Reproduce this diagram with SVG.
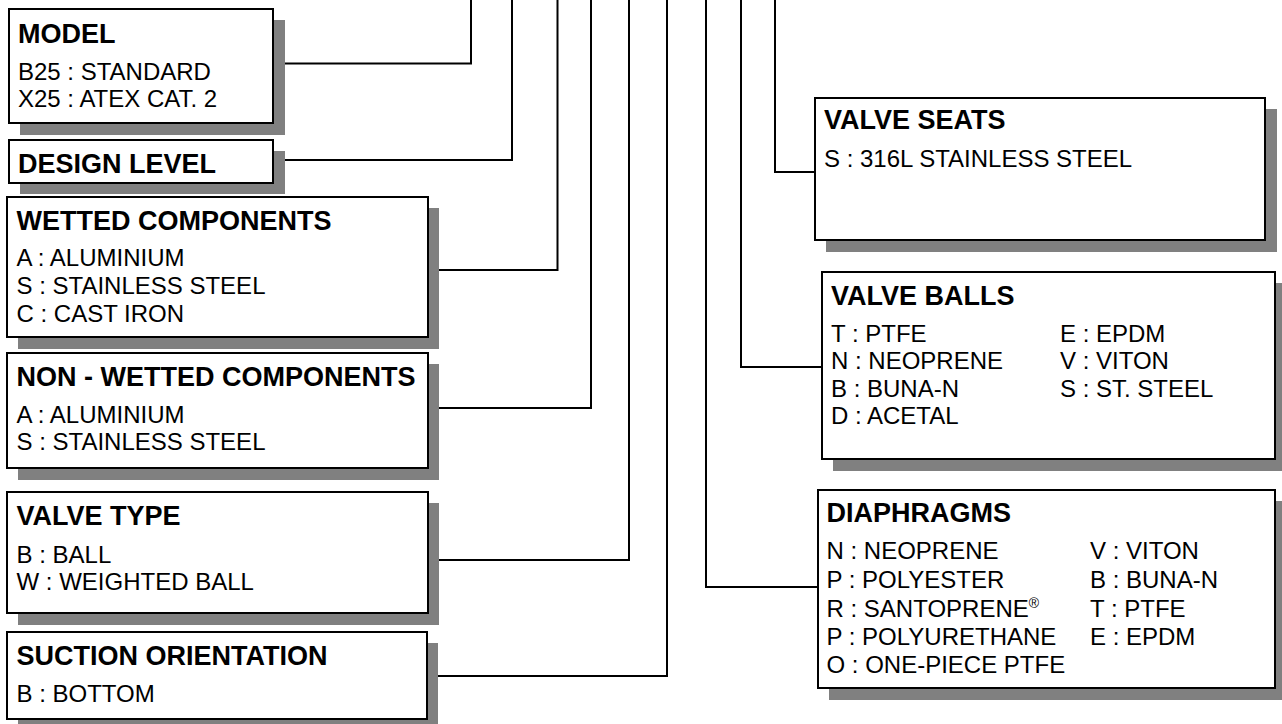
<svg xmlns="http://www.w3.org/2000/svg" width="1282" height="724" viewBox="0 0 1282 724">
<style>
.sh{fill:#808080;stroke:none}
.bx{fill:#fff;stroke:#000;stroke-width:2}
.t{font-family:"Liberation Sans",Arial,sans-serif;font-weight:bold;font-size:27px;fill:#000}
.i{font-family:"Liberation Sans",Arial,sans-serif;font-size:24px;fill:#000}
.c{fill:none;stroke:#000;stroke-width:2}
</style>
<rect width="1282" height="724" fill="#fff"/>
<g id="connectors">
<path class="c" d="M273,63.5 H471 V0"/>
<path class="c" d="M273,160 H512 V0"/>
<path class="c" d="M428,270 H557.5 V0"/>
<path class="c" d="M428,408 H591 V0"/>
<path class="c" d="M428,560 H629 V0"/>
<path class="c" d="M427,676 H667 V0"/>
<path class="c" d="M818,587 H706 V0"/>
<path class="c" d="M822,367 H741 V0"/>
<path class="c" d="M815,172 H775 V0"/>
</g>
<g id="model">
<rect class="sh" x="20" y="20" width="265" height="115"/>
<rect class="bx" x="9" y="9" width="264" height="114"/>
<text class="t" x="18" y="43">MODEL</text>
<text class="i" x="18" y="80">B25 : STANDARD</text>
<text class="i" x="18" y="106.5">X25 : ATEX CAT. 2</text>
</g>
<g id="design-level">
<rect class="sh" x="20" y="151" width="265" height="43"/>
<rect class="bx" x="9" y="140" width="264" height="43"/>
<text class="t" x="18" y="173">DESIGN LEVEL</text>
</g>
<g id="wetted">
<rect class="sh" x="18" y="208" width="421" height="141"/>
<rect class="bx" x="7" y="197" width="421" height="140"/>
<text class="t" x="16.5" y="230">WETTED COMPONENTS</text>
<text class="i" x="16.5" y="266">A : ALUMINIUM</text>
<text class="i" x="16.5" y="294">S : STAINLESS STEEL</text>
<text class="i" x="16.5" y="322">C : CAST IRON</text>
</g>
<g id="non-wetted">
<rect class="sh" x="18" y="364" width="421" height="116"/>
<rect class="bx" x="7" y="353" width="421" height="115"/>
<text class="t" x="16.5" y="386">NON - WETTED COMPONENTS</text>
<text class="i" x="16.5" y="423">A : ALUMINIUM</text>
<text class="i" x="16.5" y="450">S : STAINLESS STEEL</text>
</g>
<g id="valve-type">
<rect class="sh" x="18" y="503" width="421" height="122"/>
<rect class="bx" x="7" y="492" width="421" height="121"/>
<text class="t" x="16.5" y="525">VALVE TYPE</text>
<text class="i" x="16.5" y="563">B : BALL</text>
<text class="i" x="16.5" y="590">W : WEIGHTED BALL</text>
</g>
<g id="suction-orientation">
<rect class="sh" x="18" y="643" width="420" height="88"/>
<rect class="bx" x="7" y="632" width="420" height="87"/>
<text class="t" x="16.5" y="665">SUCTION ORIENTATION</text>
<text class="i" x="16.5" y="702">B : BOTTOM</text>
</g>
<g id="valve-seats">
<rect class="sh" x="826" y="109" width="451" height="143"/>
<rect class="bx" x="815" y="98" width="450" height="142"/>
<text class="t" x="824" y="129">VALVE SEATS</text>
<text class="i" x="824" y="166.5">S : 316L STAINLESS STEEL</text>
</g>
<g id="valve-balls">
<rect class="sh" x="833" y="283" width="454" height="188"/>
<rect class="bx" x="822" y="272" width="453" height="187"/>
<text class="t" x="831" y="305">VALVE BALLS</text>
<text class="i" x="831" y="342">T : PTFE</text>
<text class="i" x="831" y="369">N : NEOPRENE</text>
<text class="i" x="831" y="397">B : BUNA-N</text>
<text class="i" x="831" y="424">D : ACETAL</text>
<text class="i" x="1060" y="342">E : EPDM</text>
<text class="i" x="1060" y="369">V : VITON</text>
<text class="i" x="1060" y="397">S : ST. STEEL</text>
</g>
<g id="diaphragms">
<rect class="sh" x="829" y="501" width="458" height="199"/>
<rect class="bx" x="818" y="490" width="457" height="198"/>
<text class="t" x="826.5" y="522">DIAPHRAGMS</text>
<text class="i" x="826.5" y="559">N : NEOPRENE</text>
<text class="i" x="826.5" y="588">P : POLYESTER</text>
<text class="i" x="826.5" y="617">R : SANTOPRENE<tspan dy="-9" font-size="14">®</tspan></text>
<text class="i" x="826.5" y="645">P : POLYURETHANE</text>
<text class="i" x="826.5" y="673">O : ONE-PIECE PTFE</text>
<text class="i" x="1090" y="559">V : VITON</text>
<text class="i" x="1090" y="588">B : BUNA-N</text>
<text class="i" x="1090" y="617">T : PTFE</text>
<text class="i" x="1090" y="645">E : EPDM</text>
</g>
</svg>
